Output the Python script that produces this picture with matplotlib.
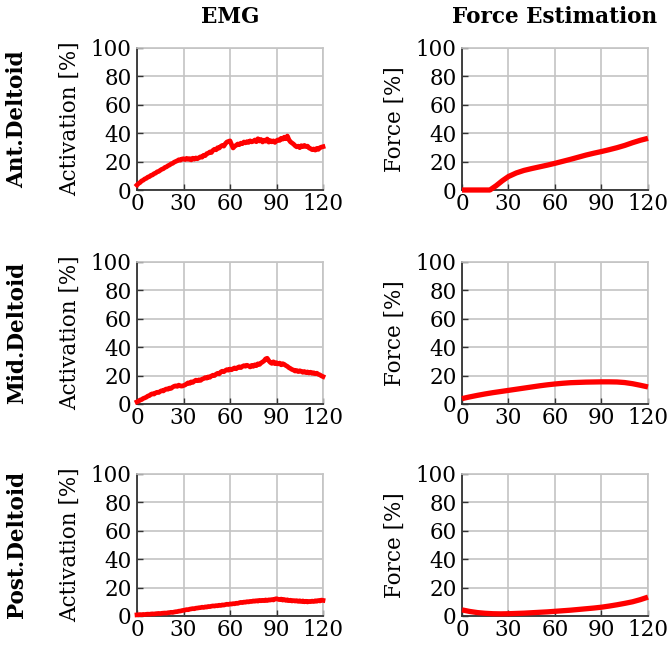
import matplotlib
matplotlib.use("Agg")
import matplotlib.pyplot as plt
import numpy as np

plt.rcParams['font.family'] = ['DejaVu Serif']

col_titles = ["EMG", "Force Estimation"]
row_labels = ["Ant.Deltoid", "Mid.Deltoid", "Post.Deltoid"]
ylabels = ["Activation [%]", "Force [%]"]
x_ticks = [0, 30, 60, 90, 120]
y_ticks = [0, 20, 40, 60, 80, 100]

t_emg = list(range(0, 121))
t_force = list(range(0, 121, 5))
t_force_ant = [0, 10, 18, 22, 26, 30, 35, 40, 45, 50, 55, 60, 65, 70, 75, 80,
               85, 90, 95, 100, 105, 110, 115, 120]

emg_ant = [3.5, 4.6, 5.3, 6.4, 6.9, 7.8, 8.2, 9.1, 9.4, 10.3, 10.6,
           11.5, 11.9, 12.8, 13.1, 13.9, 14.6, 15.0, 15.9, 16.3, 17.1,
           17.6, 18.4, 18.8, 19.6, 20.1, 20.6, 21.3, 21.0, 21.8, 22.0,
           21.4, 22.3, 21.6, 22.1, 21.2, 22.4, 21.7, 22.6, 22.0, 22.8,
           23.4, 23.1, 24.5, 24.2, 25.6, 25.9, 26.8, 26.4, 27.9, 28.7,
           28.3, 29.8, 29.5, 30.7, 31.4, 30.9, 32.6, 33.8, 34.2, 34.6,
           32.0, 29.6, 30.8, 31.5, 32.4, 31.9, 33.0, 32.6, 33.8, 33.2,
           34.1, 33.5, 34.6, 33.9, 34.3, 35.2, 34.0, 36.1, 34.5, 35.6,
           33.8, 35.1, 34.4, 35.9, 33.7, 34.8, 33.9, 34.6, 33.5, 34.7,
           35.3, 34.9, 36.4, 35.8, 37.2, 36.1, 38.0, 35.4, 33.9, 33.1,
           32.3, 31.2, 30.4, 30.9, 29.8, 31.2, 30.5, 31.4, 30.6, 30.9,
           29.6, 29.1, 28.4, 28.9, 28.1, 29.3, 28.6, 29.8, 30.2, 30.5]

emg_mid = [1.5, 2.0, 2.8, 3.1, 3.9, 4.3, 4.8, 5.6, 5.9, 6.8, 7.2,
           7.0, 7.8, 8.3, 8.1, 8.9, 9.4, 9.2, 10.1, 10.6, 10.4,
           11.2, 11.0, 11.9, 12.5, 12.8, 12.4, 13.3, 12.7, 12.6, 13.0,
           13.4, 14.2, 14.9, 14.5, 15.6, 15.2, 16.1, 16.8, 16.4, 17.0,
           16.6, 17.5, 17.9, 18.6, 18.2, 19.1, 18.8, 19.7, 20.3, 20.0,
           21.0, 21.6, 21.2, 22.5, 23.1, 22.7, 23.6, 24.2, 23.8, 24.6,
           24.1, 24.9, 25.4, 24.8, 25.7, 26.2, 25.6, 26.5, 27.0, 26.6,
           27.3, 26.8, 26.1, 27.2, 26.5, 27.6, 27.0, 28.3, 27.8, 28.9,
           29.6, 30.4, 31.8, 32.2, 30.5, 29.3, 28.6, 29.7, 28.4, 29.1,
           28.2, 28.8, 27.6, 28.4, 27.9, 27.1, 26.5, 25.6, 25.0, 24.3,
           23.9, 23.2, 23.6, 22.8, 23.4, 23.0, 22.3, 22.9, 22.1, 22.6,
           21.8, 22.4, 21.6, 22.0, 21.3, 21.7, 20.9, 20.5, 19.8, 19.3]

emg_post = [0.8, 0.9, 1.0, 0.9, 1.1, 1.0, 1.2, 1.3, 1.2, 1.4, 1.5,
            1.4, 1.6, 1.7, 1.8, 1.7, 1.9, 2.0, 2.1, 2.0, 2.3,
            2.4, 2.6, 2.5, 2.8, 3.0, 3.1, 3.4, 3.5, 3.8, 4.0,
            4.2, 4.5, 4.4, 4.8, 5.0, 5.2, 5.1, 5.5, 5.6, 5.8,
            5.9, 6.2, 6.0, 6.4, 6.3, 6.7, 6.6, 6.9, 7.1, 7.0,
            7.3, 7.2, 7.6, 7.4, 7.8, 7.7, 8.0, 8.3, 8.1, 8.5,
            8.4, 8.7, 8.6, 9.0, 8.9, 9.3, 9.6, 9.4, 9.8, 9.7,
            10.1, 9.9, 10.3, 10.2, 10.6, 10.4, 10.8, 10.5, 11.0, 10.7,
            11.1, 10.8, 11.3, 10.9, 11.4, 11.2, 11.6, 11.3, 11.9, 12.2,
            11.8, 11.5, 11.9, 11.2, 11.6, 11.0, 11.4, 10.8, 11.1, 10.6,
            10.9, 10.5, 10.8, 10.3, 10.7, 10.2, 10.6, 10.0, 10.4, 9.9,
            10.3, 10.1, 10.5, 10.2, 10.7, 10.4, 10.9, 10.6, 11.2, 11.0]

force_ant = [0.0, 0.0, 0.0, 3.0, 6.5, 9.5, 12.0, 13.8, 15.1, 16.3, 17.5,
             18.8, 20.2, 21.6, 23.1, 24.6, 25.9, 27.1, 28.4, 29.8, 31.4, 33.3,
             35.0, 36.4]
force_mid = [3.8, 5.0, 6.1, 7.1, 8.0, 8.8, 9.6, 10.4, 11.2, 12.0, 12.8, 13.5,
             14.1, 14.6, 15.0, 15.2, 15.4, 15.5, 15.6, 15.6, 15.5, 15.1, 14.3,
             13.2, 12.0]
force_post = [4.3, 3.2, 2.4, 1.9, 1.6, 1.5, 1.6, 1.8, 2.0, 2.3, 2.6, 2.9,
              3.3, 3.7, 4.1, 4.6, 5.1, 5.6, 6.2, 7.0, 7.9, 8.9, 10.0, 11.5, 13.3]

emg_series = [emg_ant, emg_mid, emg_post]
force_series = [(t_force_ant, force_ant), (t_force, force_mid), (t_force, force_post)]

W, H = 668, 646
fig = plt.figure(figsize=(W / 100, H / 100), dpi=100)

col_x = [137, 462]
ax_w = 186
row_top = [48, 262, 474]
ax_h = 142

grid_c = '#c4c4c4'
fs_tick = 15.5
fs_lab = 15.5
fs_bold = 15.5

for r in range(3):
    for c in range(2):
        x0 = col_x[c] / W
        y0 = 1 - (row_top[r] + ax_h) / H
        ax = fig.add_axes([x0, y0, ax_w / W, ax_h / H])
        if c == 0:
            ax.plot(t_emg, emg_series[r], color='#ff0000', lw=3.4, zorder=5,
                    clip_on=False, solid_joinstyle='round')
        else:
            tx, fy = force_series[r]
            ax.plot(tx, fy, color='#ff0000', lw=3.8, zorder=5,
                    clip_on=False, solid_capstyle='butt')
        ax.set_xlim(0, 120)
        ax.set_ylim(0, 100)
        ax.set_xticks(x_ticks)
        ax.set_yticks(y_ticks)
        ax.grid(True, color=grid_c, lw=1.2)
        ax.set_axisbelow(True)
        for s in ['top', 'right']:
            ax.spines[s].set_color(grid_c)
            ax.spines[s].set_linewidth(1.2)
        for s in ['left', 'bottom']:
            ax.spines[s].set_color('#333333')
            ax.spines[s].set_linewidth(1.3)
        ax.tick_params(direction='in', length=4, width=1.0, color='#333333',
                       labelsize=fs_tick, top=False, right=False)
        ax.tick_params(axis='y', pad=4)
        ax.tick_params(axis='x', pad=2)
        ax.set_ylabel(ylabels[c], fontsize=fs_lab, labelpad=7)
        if r == 0:
            ax.set_title(col_titles[c], fontsize=fs_bold, fontweight='bold', pad=18)
    yc = 1 - (row_top[r] + ax_h / 2) / H
    fig.text(17 / W, yc, row_labels[r], rotation=90, ha='center', va='center',
             fontsize=fs_bold, fontweight='bold')

fig.savefig('out.png', dpi=100)
